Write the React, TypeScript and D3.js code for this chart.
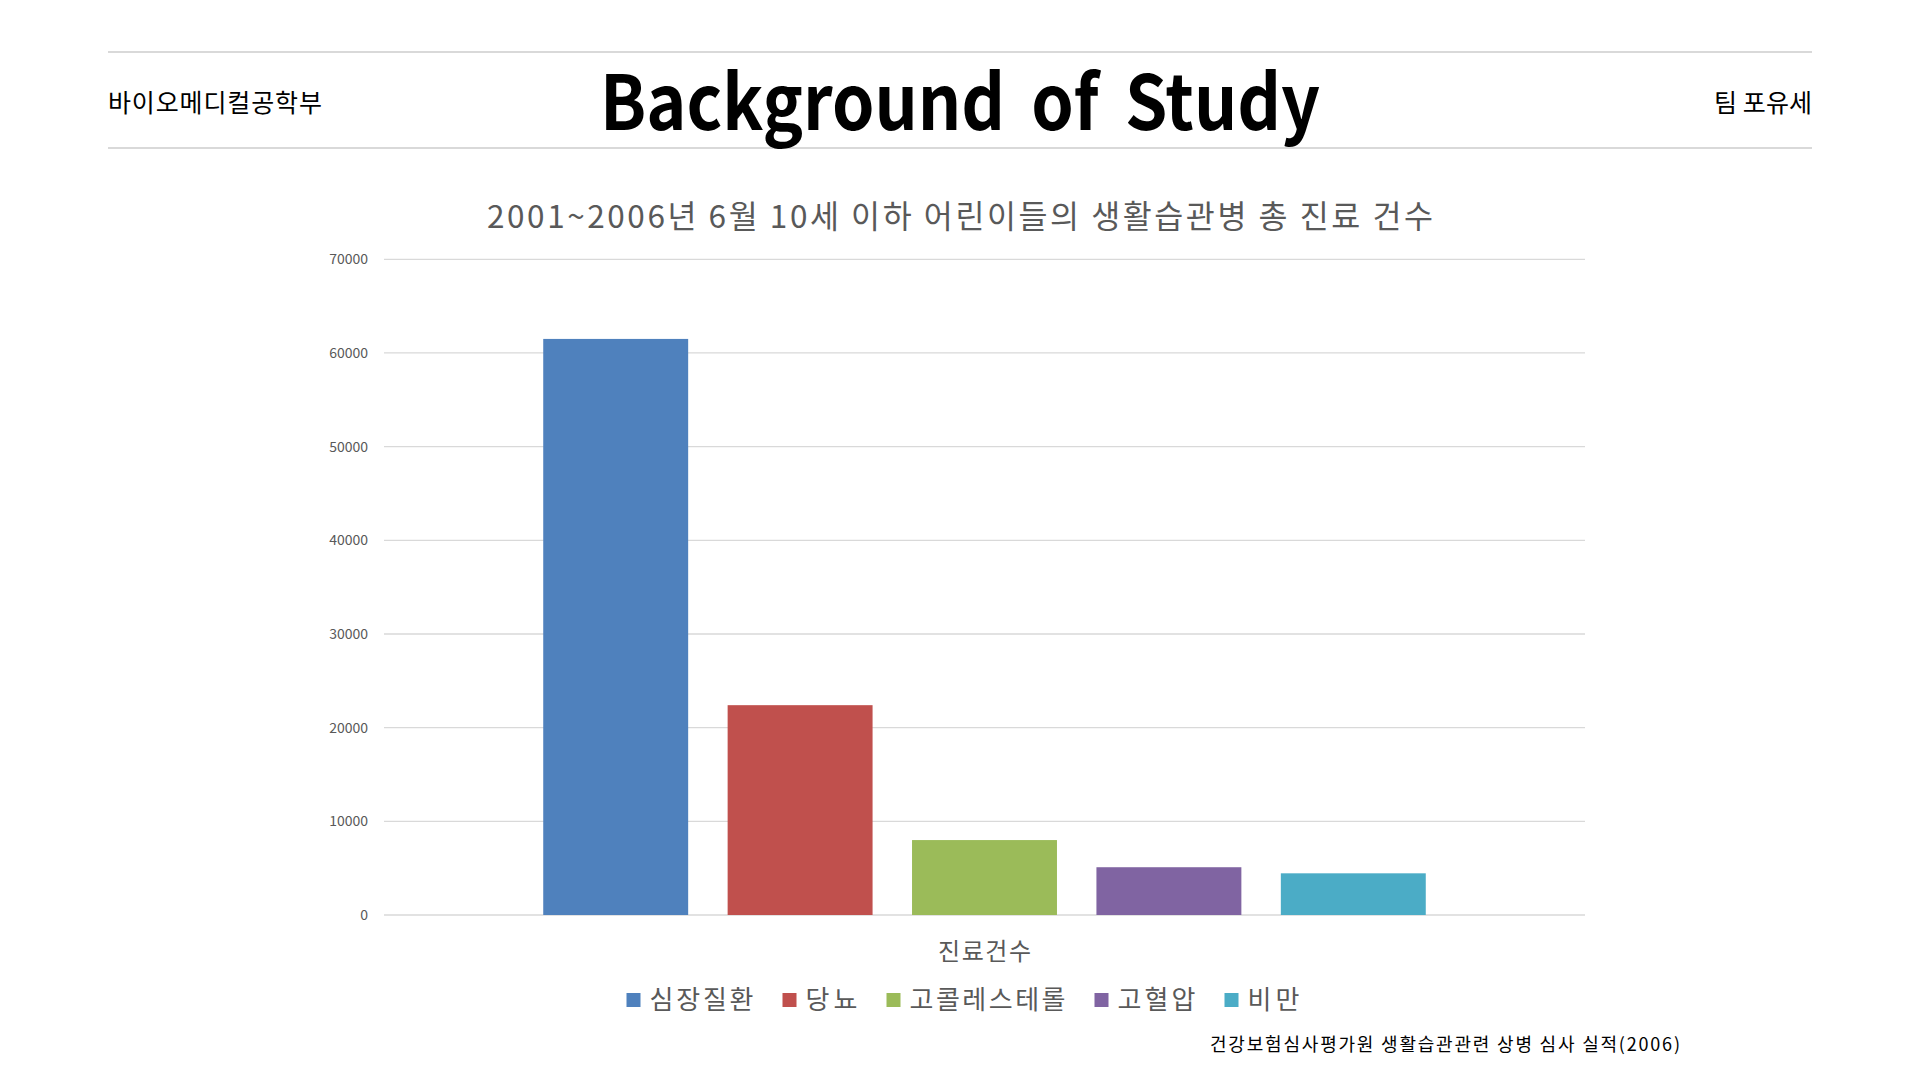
import React from "react";
import * as d3 from "d3";

const categories = ["진료건수"];
const seriesNames = ["심장질환", "당뇨", "고콜레스테롤", "고혈압", "비만"];
const seriesValues = [61500, 22400, 8000, 5100, 4450];
const seriesColors = ["#4F81BD", "#C0504D", "#9BBB59", "#8064A2", "#4BACC6"];
const yTicks = [0, 10000, 20000, 30000, 40000, 50000, 60000, 70000];

const headerLeft = "바이오메디컬공학부";
const headerRight = "팀 포유세";
const headerTitle = "Background of Study";
const chartTitle = "2001~2006년 6월 10세 이하 어린이들의 생활습관병 총 진료 건수";
const sourceText = "건강보험심사평가원 생활습관관련 상병 심사 실적(2006)";

const FONT = "'Noto Sans CJK KR', 'Noto Sans', sans-serif";

export default function App() {
  const W = 1920, H = 1080;
  const plotLeft = 384, plotRight = 1585, plotTop = 259.3, plotBottom = 915;

  const y = d3.scaleLinear().domain([0, 70000]).range([plotBottom, plotTop]);
  const xCat = d3.scaleBand<string>().domain(categories).range([plotLeft, plotRight]);
  const xSer = d3
    .scaleBand<string>()
    .domain(seriesNames)
    .range([xCat(categories[0])!, xCat(categories[0])! + xCat.bandwidth()])
    .paddingInner(0.214)
    .paddingOuter(0.8635);

  // legend layout
  const legendFont = 26;
  const sq = 14;
  const charW = 26;
  const legendWidths = seriesNames.map((s) => s.length * charW);
  const itemGap = 29;
  const totalLegend = legendWidths.reduce((a, w) => a + sq + 9 + w, 0) + itemGap * (seriesNames.length - 1);
  let lx = 963 - totalLegend / 2;
  const legendItems = seriesNames.map((s, i) => {
    const item = { name: s, x: lx, color: seriesColors[i], w: legendWidths[i] };
    lx += sq + 9 + legendWidths[i] + itemGap;
    return item;
  });

  return (
    <svg
      width={W}
      height={H}
      style={{ position: "absolute", left: 0, top: 0, background: "#fff" }}
      fontFamily={FONT}
    >
      <rect x={0} y={0} width={W} height={H} fill="#fff" />
      {/* header lines */}
      <line x1={108} x2={1812} y1={52} y2={52} stroke="#d9d9d9" strokeWidth={2} />
      <line x1={108} x2={1812} y1={148} y2={148} stroke="#d9d9d9" strokeWidth={2} />
      <text x={108} y={112} fontSize={25} fill="#000" textLength={214} lengthAdjust="spacing">{headerLeft}</text>
      <text x={1812} y={112} fontSize={25} fill="#000" textAnchor="end" textLength={98} lengthAdjust="spacing">{headerRight}</text>
      <text
        x={960}
        y={130}
        fontSize={76}
        fontWeight="bold"
        fill="#000"
        textAnchor="middle"
        textLength={720}
        lengthAdjust="spacingAndGlyphs"
        wordSpacing={12}
      >
        {headerTitle}
      </text>

      {/* chart title */}
      <text x={960} y={228} fontSize={31.5} fill="#595959" textAnchor="middle" textLength={946} lengthAdjust="spacing">
        {chartTitle}
      </text>

      {/* gridlines */}
      {yTicks.map((t) => (
        <g key={t}>
          <line x1={plotLeft} x2={plotRight} y1={y(t)} y2={y(t)} stroke="#d9d9d9" strokeWidth={1.3} />
          <text x={368} y={y(t)} dy="0.35em" fontSize={14} fill="#595959" textAnchor="end">
            {t}
          </text>
        </g>
      ))}

      {/* bars */}
      {seriesNames.map((s, i) => (
        <rect
          key={s}
          x={xSer(s)}
          y={y(seriesValues[i])}
          width={xSer.bandwidth()}
          height={plotBottom - y(seriesValues[i])}
          fill={seriesColors[i]}
        />
      ))}

      {/* category label */}
      <text
        x={xCat(categories[0])! + xCat.bandwidth() / 2}
        y={960}
        fontSize={24}
        fill="#595959"
        textAnchor="middle"
        textLength={93}
        lengthAdjust="spacing"
      >
        {categories[0]}
      </text>

      {/* legend */}
      {legendItems.map((it) => (
        <g key={it.name}>
          <rect x={it.x} y={1000 - sq / 2} width={sq} height={sq} fill={it.color} />
          <text
            x={it.x + sq + 9}
            y={1000}
            dy="0.36em"
            fontSize={legendFont}
            fill="#595959"
            textLength={it.w}
            lengthAdjust="spacing"
          >
            {it.name}
          </text>
        </g>
      ))}

      {/* source */}
      <text x={1680} y={1051} fontSize={18} fill="#000" textAnchor="end" textLength={470} lengthAdjust="spacing">
        {sourceText}
      </text>
    </svg>
  );
}
